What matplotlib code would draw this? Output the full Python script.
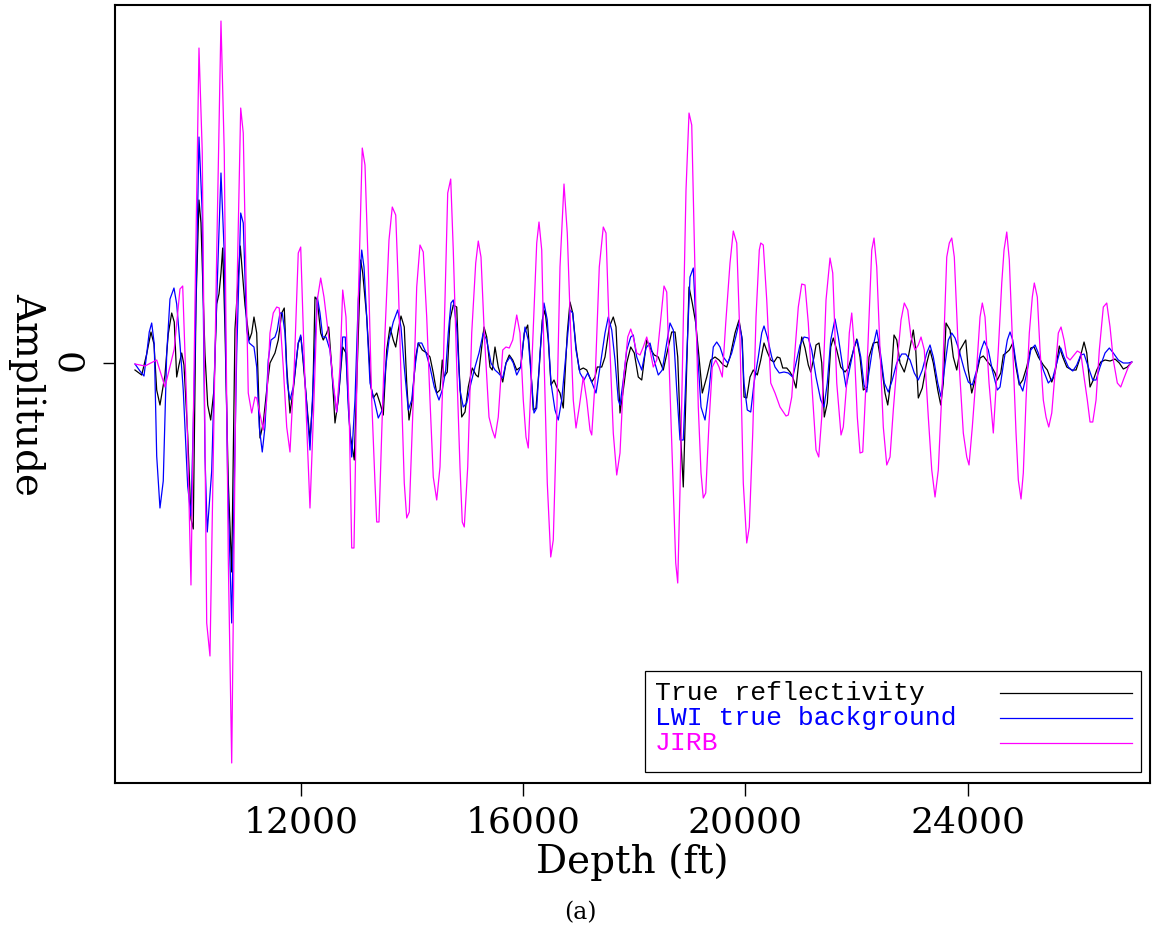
import matplotlib
matplotlib.use("Agg")
import matplotlib.pyplot as plt
from matplotlib.patches import Rectangle
from matplotlib.lines import Line2D

# (depth ft, amplitude) pairs for the three traces
true_refl = [
    (9012, -0.07), (9133, -0.12), (9223, 0.09), (9300, 0.31), (9354, 0.19), (9403, -0.27),
    (9462, -0.42), (9552, -0.12), (9611, 0.29), (9673, 0.50), (9719, 0.41), (9763, -0.14),
    (9804, -0.02), (9853, 0.10), (9894, -0.02), (9961, -0.72), (10020, -1.56), (10061, -1.66),
    (10110, 0.59), (10164, 1.63), (10200, 1.40), (10272, 0.09), (10321, -0.42), (10375, -0.57),
    (10434, -0.27), (10483, 0.59), (10524, 0.69), (10560, 0.90), (10591, 1.15), (10632, 0.34),
    (10691, -1.18), (10753, -2.09), (10812, 0.34), (10907, 1.17), (10992, 0.58),
    (11069, 0.23), (11113, 0.30), (11154, 0.46), (11203, 0.30), (11262, -0.75), (11321, -0.60),
    (11383, -0.27), (11442, 0.00), (11532, 0.10), (11591, 0.23), (11653, 0.50), (11699, 0.55),
    (11743, -0.04), (11802, -0.50), (11861, -0.27), (11951, 0.20), (12000, 0.26), (12072, -0.20),
    (12162, -0.77), (12211, -0.37), (12252, 0.66), (12293, 0.63), (12355, 0.30), (12401, 0.23),
    (12463, 0.30), (12499, 0.36), (12553, -0.04), (12612, -0.60), (12671, -0.37), (12751, 0.16),
    (12810, 0.10), (12882, -0.70), (12959, -0.97), (13013, -0.04), (13075, 1.03), (13111, 0.90),
    (13183, 0.46),
    (13260, -0.24), (13301, -0.35), (13363, -0.30), (13422, -0.40), (13481, -0.52), (13543, 0.13),
    (13602, 0.36), (13661, 0.23), (13705, 0.16), (13751, 0.33), (13800, 0.47), (13859, 0.36),
    (13903, -0.20), (13944, -0.57), (14003, -0.37), (14065, 0.06), (14111, 0.20), (14183, 0.13),
    (14263, 0.10), (14322, 0.06), (14381, -0.10), (14443, -0.30), (14502, -0.27), (14543, 0.03),
    (14574, -0.14), (14633, -0.09), (14682, 0.43), (14741, 0.58), (14803, 0.56), (14844, -0.04),
    (14893, -0.54), (14952, -0.49), (15011, -0.24), (15083, -0.05), (15150, -0.12), (15191, -0.14),
    (15253, 0.16), (15294, 0.36), (15343, 0.26), (15402, -0.04), (15443, -0.07), (15492, 0.16),
    (15551, -0.04), (15631, -0.19), (15690, 0.00), (15749, 0.08), (15811, 0.03), (15883, -0.07),
    (15955, -0.04), (16019, 0.30), (16081, 0.38), (16135, -0.04), (16181, -0.47), (16230, -0.45),
    (16289, -0.04), (16343, 0.43), (16392, 0.53), (16451, 0.23), (16500, -0.22), (16554, -0.17),
    (16603, -0.24), (16662, -0.30), (16721, -0.45), (16793, 0.30), (16842, 0.61), (16891, 0.50),
    (16950, 0.16), (17009, -0.07), (17081, -0.05), (17143, -0.07), (17233, -0.19), (17292, -0.14),
    (17333, -0.04), (17413, -0.04), (17472, 0.06), (17549, 0.36), (17621, 0.46), (17670, 0.36),
    (17742, -0.50),
    (17801, -0.27), (17863, 0.00), (17935, 0.16), (17999, 0.10), (18071, -0.14), (18133, -0.17),
    (18223, 0.23), (18300, 0.13), (18359, 0.08), (18431, 0.06), (18521, -0.07), (18611, 0.16),
    (18673, 0.31), (18732, 0.31), (18781, 0.06), (18822, -0.60), (18881, -1.24), (18930, -0.27),
    (18984, 0.76), (19043, 0.60), (19105, 0.40), (19164, 0.06), (19223, -0.30), (19303, -0.14),
    (19375, 0.03), (19452, 0.06), (19524, 0.03), (19601, -0.02), (19663, -0.04), (19722, 0.06),
    (19812, 0.30), (19884, 0.43), (19943, 0.23),
    (19974, -0.34), (20023, -0.35), (20082, -0.14), (20141, -0.07), (20213, -0.12), (20275, 0.03),
    (20334, 0.20), (20393, 0.11), (20455, 0.03), (20514, 0.01), (20573, 0.06), (20622, 0.05),
    (20671, -0.05), (20743, -0.05), (20802, -0.09), (20851, -0.14), (20910, -0.25), (20969, 0.06),
    (21013, 0.26), (21072, 0.15), (21131, -0.02), (21175, -0.09), (21234, 0.06), (21270, 0.18),
    (21324, 0.20), (21373, 0.00), (21419, -0.54), (21473, -0.40), (21535, 0.16), (21581, 0.25),
    (21643, 0.13), (21715, -0.04), (21792, -0.09), (21851, -0.05), (21931, 0.10), (22003, 0.24),
    (22062, 0.06), (22121, -0.27), (22193, -0.24),
    (22224, 0.06), (22301, 0.20), (22381, 0.21), (22453, -0.04), (22512, -0.30), (22561, -0.42),
    (22620, -0.17), (22674, 0.28), (22723, 0.23), (22782, 0.00), (22859, -0.09), (22931, 0.06),
    (23021, 0.33), (23065, 0.13), (23111, -0.35), (23183, -0.25), (23263, 0.00), (23322, 0.13),
    (23381, 0.00), (23461, -0.27), (23515, -0.42), (23561, -0.20), (23610, 0.40), (23682, 0.33),
    (23741, 0.06), (23803, -0.07), (23862, 0.13), (23965, 0.23), (24011, -0.07), (24073, -0.30),
    (24145, -0.14), (24222, 0.05), (24281, 0.07), (24361, 0.01), (24433, -0.04), (24492, -0.10),
    (24533, -0.17), (24595, -0.10), (24641, 0.08), (24690, 0.10), (24749, 0.13), (24811, 0.20),
    (24870, -0.04), (24929, -0.22), (24991, -0.17), (25063, -0.04), (25135, 0.15), (25194, 0.16),
    (25271, 0.06), (25361, -0.02), (25433, -0.07), (25513, -0.19), (25572, -0.10), (25649, 0.17),
    (25711, 0.06), (25783, -0.04), (25873, -0.07), (25950, -0.07), (26022, 0.05), (26094, 0.21),
    (26143, 0.10), (26202, -0.24), (26261, -0.17), (26323, -0.07), (26395, 0.01), (26472, 0.03),
    (26562, 0.02), (26652, 0.04), (26729, 0.00), (26801, -0.06), (26873, -0.04), (26953, 0.01),
]

lwi = [
    (9012, -0.01), (9102, -0.08), (9174, -0.13), (9223, 0.09), (9269, 0.31), (9313, 0.40),
    (9359, 0.19), (9403, -0.93), (9462, -1.45), (9521, -1.18), (9583, 0.09), (9642, 0.64),
    (9714, 0.75), (9763, 0.59), (9822, 0.19), (9881, -0.27), (9961, -1.23), (10020, -1.53),
    (10092, 0.09), (10164, 2.26), (10223, 1.50), (10272, -0.93), (10313, -1.69), (10393, -1.08),
    (10452, 0.09), (10511, 1.10), (10560, 1.90), (10619, 1.10), (10681, -1.18), (10753, -2.60),
    (10843, 0.09), (10915, 1.50), (10961, 1.40),
    (11023, 0.33), (11069, 0.20), (11113, 0.18), (11154, 0.16), (11203, -0.04), (11249, -0.64),
    (11303, -0.89), (11352, -0.64), (11411, 0.03), (11460, 0.23), (11532, 0.26), (11573, 0.33),
    (11622, 0.50), (11663, 0.50), (11712, 0.30), (11753, -0.20), (11802, -0.37), (11861, -0.24),
    (11951, 0.20), (11995, 0.28), (12054, -0.04), (12162, -0.87), (12234, -0.04), (12293, 0.66),
    (12342, 0.50), (12391, 0.26), (12450, 0.26), (12522, 0.13), (12581, -0.24), (12643, -0.49),
    (12689, -0.24), (12751, 0.26), (12797, 0.26), (12851, -0.44), (12913, -0.94), (12972, -0.37),
    (13031, 0.63), (13093, 1.13), (13134, 0.96), (13183, 0.46), (13242, -0.20),
    (13319, -0.37), (13391, -0.55), (13463, -0.47), (13525, -0.04), (13584, 0.23), (13661, 0.41),
    (13741, 0.53), (13800, 0.36), (13859, -0.04), (13931, -0.47), (13993, -0.37), (14052, -0.04),
    (14111, 0.20), (14173, 0.20), (14245, 0.11), (14322, -0.04), (14399, -0.24), (14484, -0.37),
    (14543, -0.27), (14605, -0.07), (14651, 0.30), (14700, 0.60), (14741, 0.63), (14803, 0.36),
    (14862, -0.27), (14921, -0.44), (14983, -0.40), (15060, -0.20), (15132, -0.04), (15204, 0.10),
    (15281, 0.30), (15343, 0.23), (15420, 0.00), (15492, -0.07),
    (15551, -0.10), (15631, -0.15), (15690, 0.00), (15762, 0.06), (15821, 0.00), (15883, -0.12),
    (15955, -0.04), (16032, 0.36), (16091, 0.23), (16153, -0.20), (16194, -0.50), (16243, -0.45),
    (16302, 0.10), (16374, 0.60), (16433, 0.43), (16500, -0.20), (16572, -0.47), (16631, -0.57),
    (16693, -0.37), (16770, 0.10), (16842, 0.53), (16891, 0.50), (16950, 0.13), (17022, -0.10),
    (17094, -0.17), (17161, -0.10), (17233, -0.19), (17310, -0.30), (17382, -0.04), (17472, 0.30),
    (17531, 0.46), (17593, 0.33), (17652, 0.03), (17711, -0.37), (17742, -0.42),
    (17801, -0.17), (17863, 0.13), (17935, 0.26), (17981, 0.28), (18043, 0.06), (18133, -0.07),
    (18210, 0.15), (18282, 0.20), (18354, 0.03), (18431, -0.12), (18503, -0.07), (18583, 0.20),
    (18642, 0.40), (18701, 0.33), (18763, -0.27), (18822, -0.77), (18881, -0.77), (18943, 0.06),
    (19002, 0.86), (19061, 0.95), (19123, 0.23), (19200, -0.44), (19272, -0.57), (19344, -0.27),
    (19421, 0.16), (19483, 0.21), (19542, 0.16), (19601, 0.06), (19681, 0.00), (19753, 0.10),
    (19825, 0.26), (19884, 0.40), (19933, 0.26),
    (19974, -0.20), (20033, -0.47), (20095, -0.49), (20154, -0.20), (20231, 0.06), (20293, 0.30),
    (20334, 0.37), (20393, 0.26), (20473, 0.06), (20532, -0.04), (20609, -0.10), (20694, -0.09),
    (20771, -0.10), (20851, -0.14), (20910, 0.00), (20982, 0.18), (21054, 0.26), (21131, 0.25),
    (21193, 0.13), (21270, -0.14), (21355, -0.37), (21414, -0.44), (21473, -0.20), (21535, 0.23),
    (21612, 0.44), (21671, 0.26), (21751, -0.04), (21810, -0.24), (21882, -0.04), (21954, 0.16),
    (22013, 0.23), (22075, 0.06), (22134, -0.22), (22183, -0.29),
    (22211, -0.14), (22283, 0.13), (22363, 0.33), (22422, 0.13), (22499, -0.20), (22571, -0.29),
    (22643, -0.17), (22723, 0.00), (22813, 0.09), (22885, 0.09), (22962, 0.03), (23039, -0.10),
    (23111, -0.17), (23183, -0.07), (23263, 0.10), (23322, 0.18), (23381, 0.06), (23461, -0.20),
    (23520, -0.34), (23579, -0.07), (23651, 0.23), (23713, 0.30), (23772, 0.25), (23844, 0.13),
    (23939, -0.07), (24011, -0.19), (24083, -0.22), (24163, -0.07), (24240, 0.13), (24299, 0.22),
    (24371, 0.13), (24443, -0.07),
    (24533, -0.27), (24582, -0.24), (24654, 0.03), (24713, 0.23), (24762, 0.31), (24811, 0.23),
    (24870, 0.00), (24929, -0.20), (24991, -0.28), (25063, -0.10), (25135, 0.13), (25212, 0.18),
    (25271, 0.10), (25361, -0.07), (25451, -0.20), (25531, -0.15), (25603, 0.00), (25675, 0.15),
    (25734, 0.06), (25811, -0.04), (25891, -0.08), (25963, -0.02), (26035, 0.08), (26094, 0.09),
    (26171, -0.04), (26251, -0.17), (26310, -0.17), (26382, -0.04), (26472, 0.10), (26549, 0.15),
    (26621, 0.10), (26711, 0.03), (26801, 0.00), (26891, 0.00), (26953, 0.01),
]

jirb = [
    (9012, -0.01), (9192, -0.03), (9403, 0.03), (9552, -0.24), (9719, 0.14), (9822, 0.74),
    (9871, 0.77), (9943, -0.42), (10020, -2.22), (10092, 0.59), (10164, 3.15), (10223, 2.11),
    (10303, -2.60), (10362, -2.93), (10483, 1.10), (10560, 3.42), (10619, 2.11), (10691, -1.94),
    (10753, -4.00), (10843, 0.59), (10915, 2.55), (10961, 2.30),
    (11051, -0.30), (11113, -0.50), (11172, -0.34), (11203, -0.35), (11321, -0.67), (11383, -0.37),
    (11442, 0.30), (11501, 0.50), (11563, 0.56), (11609, 0.55), (11681, -0.04), (11743, -0.64),
    (11802, -0.89), (11879, -0.04), (11951, 1.10), (11995, 1.16), (12072, -0.20), (12162, -1.45),
    (12234, -0.37), (12293, 0.63), (12355, 0.85), (12414, 0.66), (12491, 0.30), (12581, -0.20),
    (12643, -0.49), (12702, -0.04), (12751, 0.73), (12810, 0.46), (12869, -0.54), (12913, -1.85),
    (12954, -1.85), (13031, 0.63), (13103, 2.15), (13152, 1.98), (13211, 0.96),
    (13273, -0.37), (13332, -1.20), (13363, -1.59), (13404, -1.59), (13453, -0.70), (13512, 0.30),
    (13584, 1.23), (13643, 1.56), (13705, 1.48), (13751, 0.80), (13813, -0.37), (13859, -1.20),
    (13903, -1.55), (13949, -1.49), (14021, -0.37), (14083, 0.76), (14142, 1.18), (14201, 1.11),
    (14263, 0.46), (14322, -0.37), (14381, -1.14), (14443, -1.37), (14502, -1.04), (14561, -0.04),
    (14641, 1.70), (14695, 1.84), (14741, 1.13), (14803, -0.04), (14862, -1.04), (14903, -1.59),
    (14939, -1.64), (15001, -1.04), (15073, 0.30), (15145, 1.00), (15191, 1.22), (15240, 1.06),
    (15299, 0.30), (15384, -0.54), (15443, -0.67), (15492, -0.75),
    (15551, -0.54), (15631, 0.13), (15690, 0.16), (15749, 0.15), (15811, 0.23), (15883, 0.48),
    (15942, 0.30), (16001, -0.37), (16050, -0.74), (16091, -0.85), (16153, -0.04), (16243, 1.20),
    (16284, 1.41), (16333, 1.13), (16379, -0.04), (16433, -1.20), (16495, -1.94), (16541, -1.77),
    (16603, -0.54), (16662, 0.96), (16734, 1.79), (16793, 1.30), (16855, 0.30), (16901, -0.37),
    (16950, -0.65), (17009, -0.44), (17081, -0.14), (17143, -0.37), (17202, -0.67), (17233, -0.72),
    (17292, -0.20), (17369, 0.96), (17441, 1.36), (17490, 1.30), (17549, 0.30), (17621, -0.70),
    (17683, -1.12), (17742, -0.90),
    (17801, -0.20), (17881, 0.26), (17935, 0.34), (17981, 0.26), (18043, 0.10), (18102, 0.08),
    (18161, 0.16), (18223, 0.26), (18282, 0.13), (18341, -0.04), (18403, 0.03), (18480, 0.46),
    (18534, 0.77), (18583, 0.71), (18642, -0.27), (18701, -1.27), (18745, -2.00), (18781, -2.20),
    (18822, -1.27), (18881, 0.40), (18930, 1.73), (18984, 2.50), (19033, 2.38), (19092, 0.90),
    (19151, -0.44), (19200, -1.10), (19241, -1.35), (19285, -1.30), (19344, -0.60), (19403, -0.04),
    (19465, 0.03), (19524, -0.04), (19583, -0.14), (19645, 0.40), (19722, 1.00), (19781, 1.32),
    (19843, 1.20), (19902, 0.23),
    (19961, -1.20), (20023, -1.80), (20069, -1.64), (20131, -0.70), (20190, 0.46), (20249, 1.13),
    (20275, 1.20), (20321, 1.18), (20383, 0.63), (20455, -0.20), (20532, -0.30), (20622, -0.44),
    (20730, -0.53), (20771, -0.52), (20833, -0.34), (20892, 0.13), (20951, 0.56), (21013, 0.79),
    (21072, 0.78), (21131, 0.40), (21193, -0.20), (21270, -0.87), (21319, -0.94), (21373, -0.54),
    (21450, 0.63), (21522, 1.05), (21571, 0.90), (21643, -0.20), (21720, -0.72), (21761, -0.64),
    (21823, -0.20), (21869, 0.30), (21913, 0.50), (21954, 0.20), (22013, -0.54), (22062, -0.90),
    (22111, -0.89), (22170, -0.20),
    (22201, 0.13), (22273, 1.13), (22314, 1.25), (22363, 0.96), (22422, 0.13), (22481, -0.64),
    (22543, -1.02), (22602, -0.94), (22661, -0.47), (22723, -0.04), (22800, 0.43), (22859, 0.60),
    (22921, 0.53), (22980, 0.26), (23052, 0.13), (23111, 0.18), (23160, 0.26), (23219, 0.13),
    (23291, -0.54), (23353, -1.07), (23412, -1.34), (23471, -1.07), (23543, -0.20), (23623, 1.06),
    (23669, 1.20), (23713, 1.25), (23759, 1.06), (23831, 0.13), (23921, -0.70), (23983, -0.94),
    (24024, -1.02), (24083, -0.64), (24163, -0.04), (24222, 0.46), (24263, 0.60), (24312, 0.46),
    (24384, -0.20), (24461, -0.70),
    (24551, 0.13), (24613, 0.80), (24654, 1.13), (24703, 1.31), (24749, 1.03), (24811, 0.13),
    (24870, -0.70), (24911, -1.17), (24960, -1.36), (25001, -1.10), (25050, -0.37), (25109, 0.30),
    (25163, 0.66), (25199, 0.80), (25253, 0.66), (25302, 0.13), (25361, -0.37), (25410, -0.54),
    (25459, -0.64), (25513, -0.50), (25572, -0.10), (25631, 0.30), (25680, 0.36), (25734, 0.23),
    (25783, 0.06), (25842, 0.03), (25914, 0.08), (25973, 0.12), (26035, 0.10), (26094, -0.14),
    (26153, -0.37), (26202, -0.59), (26251, -0.59), (26310, -0.37), (26369, 0.13), (26441, 0.56),
    (26503, 0.60), (26562, 0.36), (26621, 0.03), (26693, -0.20), (26755, -0.24), (26814, -0.15),
    (26891, -0.04), (26953, 0.01),
]

labels = ["True reflectivity", "LWI true background", "JIRB"]
colors = ["black", "#0000ff", "#ff00ff"]
xticks = [12000, 16000, 20000, 24000]

fig = plt.figure(figsize=(11.52, 9.33), dpi=100)
ax = fig.add_axes([0.0998, 0.1608, 0.8985, 0.8338])

for trace, col in zip([true_refl, lwi, jirb], colors):
    d, a = zip(*trace)
    ax.plot(d, a, color=col, lw=0.9)

ax.set_xlim(8652, 27282)
ax.set_ylim(-4.20, 3.58)
ax.set_xticks(xticks)
ax.set_xticklabels([str(t) for t in xticks], fontfamily="DejaVu Serif", fontsize=26)
ax.set_yticks([0])
ax.set_yticklabels(["0"], fontfamily="DejaVu Serif", fontsize=26, rotation=-90, va="center")

ax.tick_params(axis="x", length=9, width=1, pad=7, direction="out")
ax.tick_params(axis="y", length=9, width=1, pad=14, direction="out")
for s in ax.spines.values():
    s.set_linewidth(1.5)

ax.set_xlabel("Depth (ft)", fontfamily="DejaVu Serif", fontsize=28, va="center")
ax.xaxis.set_label_coords(0.5, -0.1015)
ax.set_ylabel("Amplitude", fontfamily="DejaVu Serif", fontsize=28,
              rotation=-90, va="center", ha="center")
ax.yaxis.set_label_coords(-0.085, 0.5)

# boxed key, text on the left and line sample on the right
ax.add_patch(Rectangle((0.5121, 0.0141), 0.4792, 0.1299, transform=ax.transAxes,
                       facecolor="white", edgecolor="black", lw=0.9, zorder=5))
row_y = [0.1157, 0.0835, 0.0514]
for lab, col, yy in zip(labels, colors, row_y):
    ax.text(0.5217, yy, lab, transform=ax.transAxes, color=col, fontfamily="Liberation Mono",
            fontsize=19, ha="left", va="center", zorder=6)
    ax.add_line(Line2D([0.8551, 0.9826], [yy, yy], transform=ax.transAxes, color=col,
                       lw=0.9, zorder=6))

fig.text(0.504, 0.0214, "(a)", family="DejaVu Serif", fontsize=17, ha="center", va="center")

fig.savefig("out.png", dpi=100)
